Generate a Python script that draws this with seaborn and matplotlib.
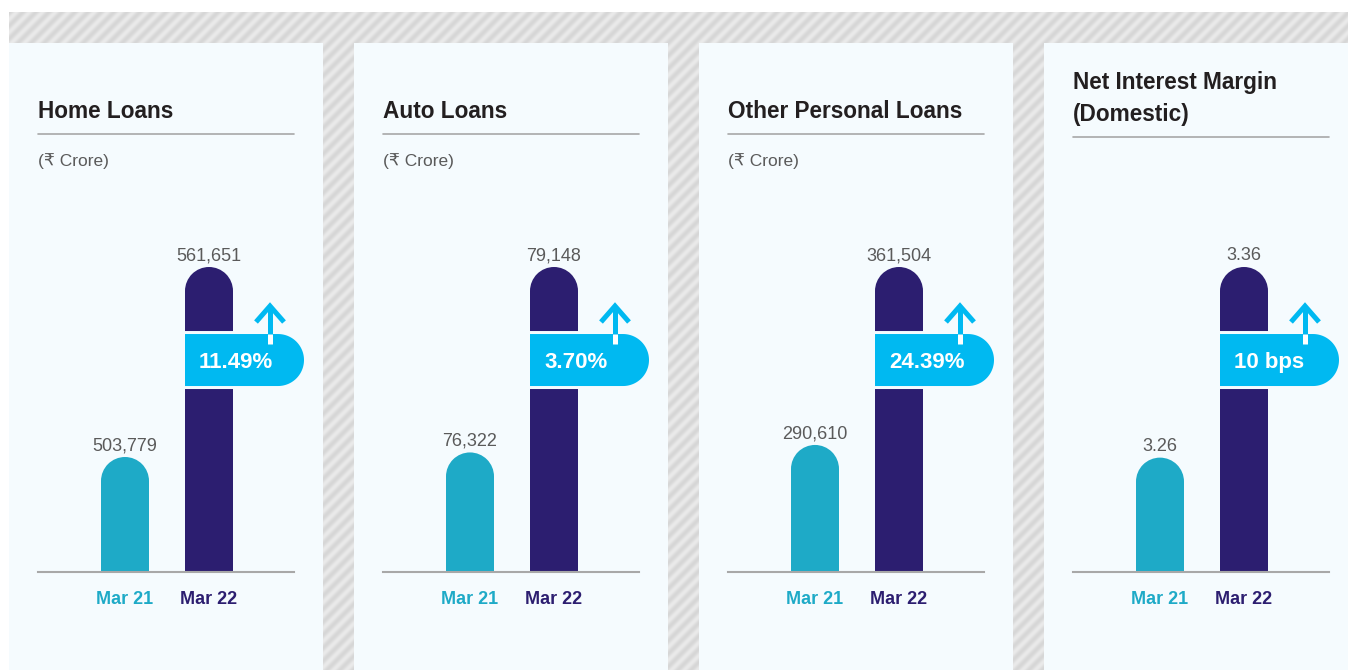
import numpy as np
import pandas as pd
import matplotlib
matplotlib.use("Agg")
import matplotlib.pyplot as plt
import seaborn as sns
from matplotlib.patches import Rectangle, Ellipse, Polygon

# ---------------- data ----------------
titles = ["Home Loans", "Auto Loans", "Other Personal Loans", "Net Interest Margin\n(Domestic)"]
units = ["(₹ Crore)", "(₹ Crore)", "(₹ Crore)", ""]
periods = ["Mar 21", "Mar 22"]
mar21 = [503779, 76322, 290610, 3.26]
mar22 = [561651, 79148, 361504, 3.36]
changes = ["11.49%", "3.70%", "24.39%", "10 bps"]
# truncated value axis floor for each panel
axis_floor = [468750, 74500, 240000, 3.2]

# ---------------- style ----------------
sns.set_style("white")
plt.rcParams["font.family"] = ["Liberation Sans", "DejaVu Sans"]

TEAL = "#1eaac7"
INDIGO = "#2c1e70"
CYAN = "#00b9f1"
PANEL = "#f5fbfe"
TITLE_C = "#231f20"
GREY_T = "#5a5a5a"
LINE_C = "#a8a8a8"

W_PX, H_PX = 1348, 670
fig = plt.figure(figsize=(W_PX / 100, H_PX / 100), dpi=100)
fig.patch.set_facecolor("white")

bg = fig.add_axes([0, 0, 1, 1])
bg.axis("off")

# striped backdrop
H, W = H_PX - 12, W_PX - 9
yy, xx = np.mgrid[0:H, 0:W]
phase = ((xx + yy) % 13) / 13.0
wave = 0.5 + 0.5 * np.cos(2 * np.pi * phase)
light = np.array([234, 234, 234]) / 255
dark = np.array([214, 214, 214]) / 255
img = light[None, None, :] * (1 - wave[..., None]) + dark[None, None, :] * wave[..., None]
bg.imshow(img, extent=(9, W_PX, H_PX, 12), interpolation="bilinear", aspect="auto", zorder=0)
bg.set_xlim(0, W_PX)
bg.set_ylim(H_PX, 0)

STEP = 345
BASE_Y = 572
TOP_Y = 267
AX_W = 256
CAT_STEP = 84.0
left_units = 87 / CAT_STEP
right_units = (AX_W - 87) / CAT_STEP

for i in range(4):
    px0 = 9 + STEP * i
    bg.add_patch(Rectangle((px0, 43), 314, H_PX, fc=PANEL, ec="none", zorder=1))
    tx = 38 + STEP * i

    # titles
    lines = titles[i].split("\n")
    first_base = 118 if len(lines) == 1 else 89
    for k, ln in enumerate(lines):
        bg.text(tx, first_base + 32 * k, ln, fontsize=16.3, fontweight="bold",
                color=TITLE_C, va="baseline", ha="left", zorder=3)
    uy = first_base + 32 * (len(lines) - 1) + 16
    bg.plot([tx, tx + AX_W], [uy, uy], color=LINE_C, lw=1.2, zorder=3)
    if units[i]:
        bg.text(tx, 166, units[i], fontsize=12.5, color=GREY_T, va="baseline", ha="left", zorder=3)

    # bar axes
    ax = fig.add_axes([tx / W_PX, (H_PX - BASE_Y) / H_PX, AX_W / W_PX, (BASE_Y - TOP_Y) / H_PX])
    df = pd.DataFrame({"period": periods, "value": [mar21[i], mar22[i]]})
    sns.barplot(data=df, x="period", y="value", hue="period", palette=[TEAL, INDIGO],
                width=48 / CAT_STEP, saturation=1, legend=False, linewidth=0,
                edgecolor="none", ax=ax)
    ax.set_autoscale_on(False)
    ax.set_xlim(-left_units, right_units)
    ax.set_ylim(axis_floor[i], mar22[i])
    ax.set_facecolor("none")
    ax.set_xlabel("")
    ax.set_ylabel("")
    ax.set_yticks([])
    for s in ["left", "right", "top"]:
        ax.spines[s].set_visible(False)
    ax.spines["bottom"].set_color(LINE_C)
    ax.spines["bottom"].set_linewidth(1.5)
    ax.tick_params(axis="x", length=0, pad=14)
    ax.set_xticks([0, 1])
    ax.set_xticklabels(periods, fontsize=13, fontweight="bold")
    for lab, c in zip(ax.get_xticklabels(), [TEAL, INDIGO]):
        lab.set_color(c)

    bars = list(ax.patches)
    ppd_y = ax.transData.transform((0, 1))[1] - ax.transData.transform((0, 0))[1]
    for p, val in zip(bars, [mar21[i], mar22[i]]):
        p.set_edgecolor("none")
        p.set_linewidth(0)
        x, w, h = p.get_x(), p.get_width(), p.get_height()
        px_w = ax.transData.transform((x + w, 0))[0] - ax.transData.transform((x, 0))[0]
        r_data = (px_w / 2) / ppd_y
        p.set_height(h - r_data)
        e = Ellipse((x + w / 2, h - r_data), w, 2 * r_data, fc=p.get_facecolor(), ec="none", lw=0)
        ax.add_patch(e)
        e.set_clip_on(False)
        lbl = f"{val:,}" if isinstance(val, int) else f"{val:.2f}"
        ax.annotate(lbl, xy=(x + w / 2, h), xytext=(0, 5), textcoords="offset points",
                    ha="center", va="baseline", fontsize=13, color=GREY_T, annotation_clip=False)

    # badge on Mar 22 bar
    p = bars[1]
    inv = bg.transData.inverted()
    L = inv.transform(ax.transData.transform((p.get_x(), 0)))[0]
    top_px = inv.transform(ax.transData.transform((0, mar22[i])))[1]
    base_px = BASE_Y
    C = base_px - 0.695 * (base_px - top_px)
    bw, bh = 119, 52

    def badge_pts(grow):
        r = bh / 2 + grow
        rc = L + bw - bh / 2
        t = np.linspace(-np.pi / 2, np.pi / 2, 60)
        arc = np.column_stack([rc + r * np.cos(t), C + r * np.sin(t)])
        return np.vstack([[L - grow, C - r], arc, [L - grow, C + r]])

    outer = Polygon(badge_pts(3), closed=True, fc=PANEL, ec="none", transform=bg.transData)
    inner = Polygon(badge_pts(0), closed=True, fc=CYAN, ec="none", transform=bg.transData)
    for pp in (outer, inner):
        ax.add_patch(pp)
        pp.set_clip_on(False)
    ax.text(L + 14, C + 8, changes[i], transform=bg.transData, fontsize=16, fontweight="bold",
            color="white", ha="left", va="baseline", clip_on=False)

    # arrow
    axx = L + 85
    btop = C - bh / 2
    ax.plot([axx - 14, axx, axx + 14], [btop - 12, btop - 28, btop - 12], transform=bg.transData,
            color=CYAN, lw=3.6, solid_joinstyle="miter", solid_capstyle="butt", clip_on=False)
    ax.plot([axx, axx], [btop - 27, btop], transform=bg.transData, color=CYAN, lw=3.6,
            solid_capstyle="butt", clip_on=False)
    ax.plot([axx, axx], [btop, btop + 10], transform=bg.transData, color="white", lw=3.6,
            solid_capstyle="butt", clip_on=False)

fig.savefig("out.png", dpi=100)
